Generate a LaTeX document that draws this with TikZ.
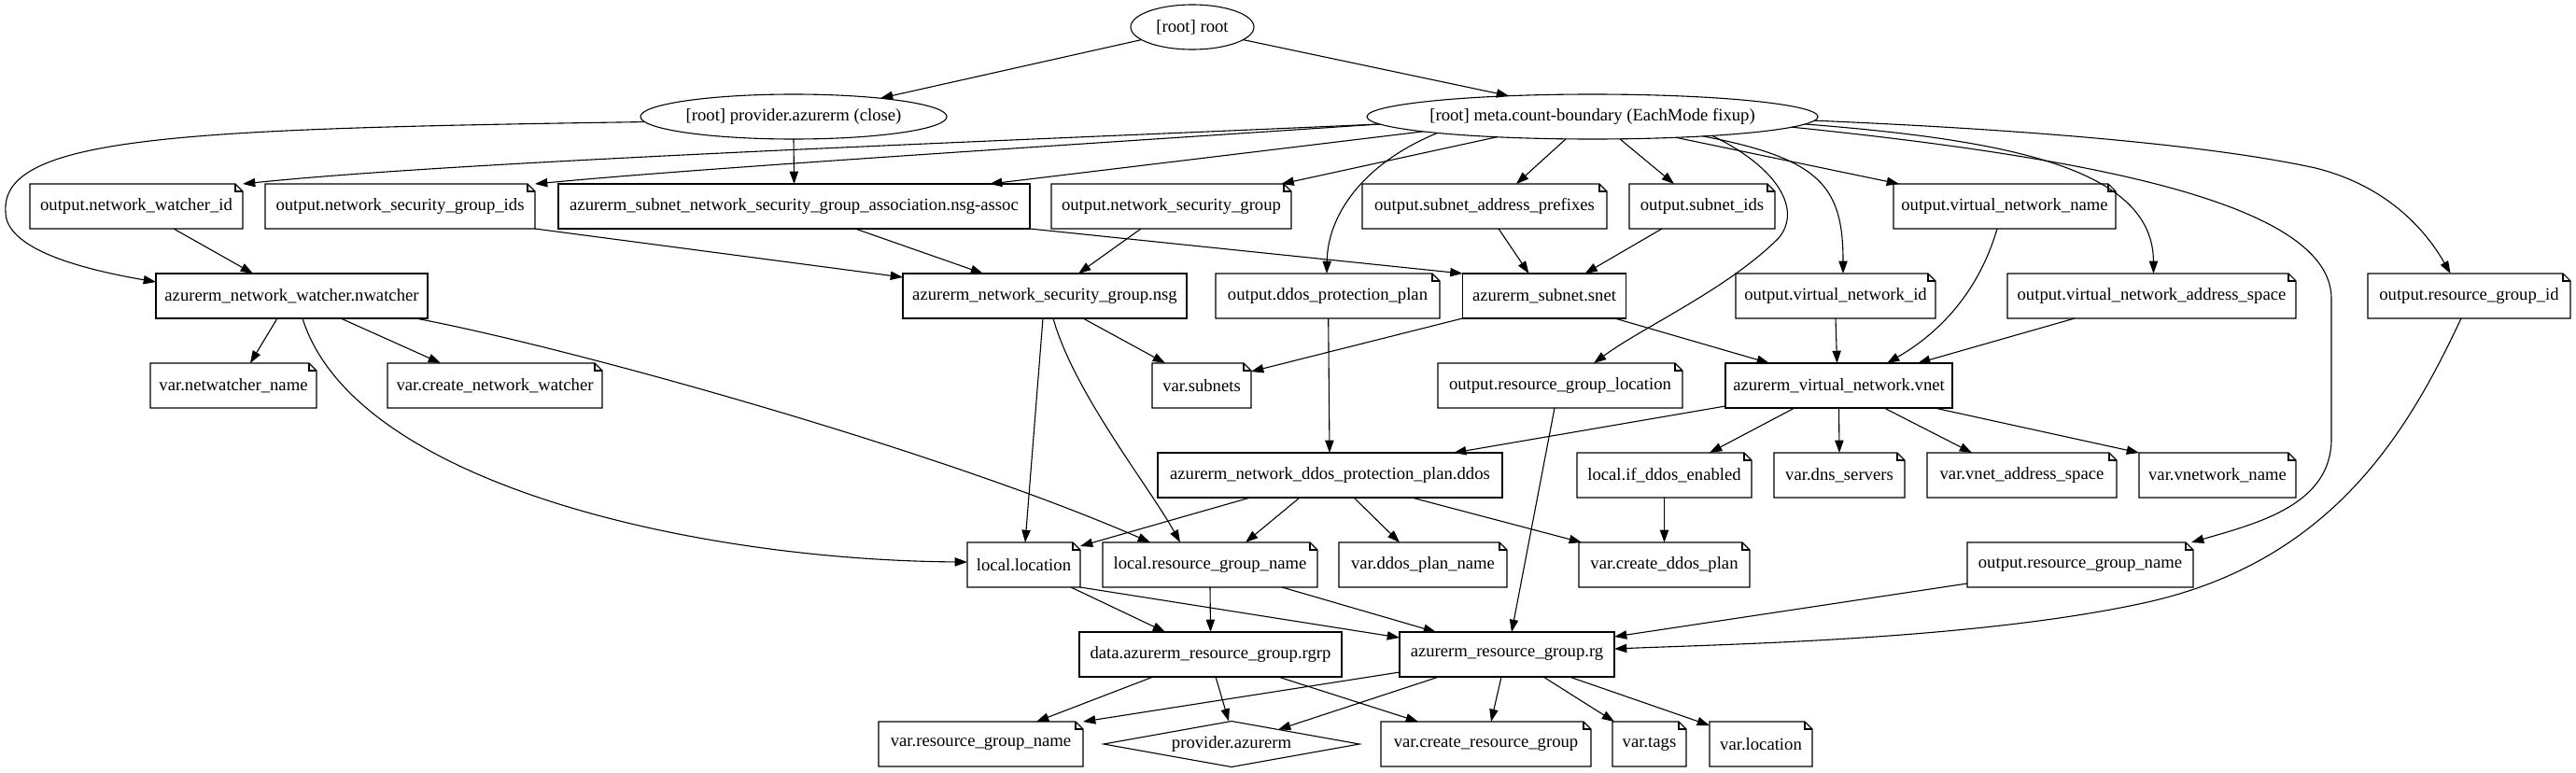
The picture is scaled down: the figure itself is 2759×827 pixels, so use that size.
\documentclass[tikz,border=0pt]{standalone}
\usepackage{fontspec}
\setmainfont{Liberation Serif}
\usetikzlibrary{arrows.meta,shapes.geometric}
\newcommand{\gvl}[1]{\makebox[0pt]{#1}}
\newcommand{\gvfont}{\fontsize{18.67}{22}\selectfont}
\begin{document}
\begin{tikzpicture}[x=1pt,y=-1pt,
  base/.style={font=\gvfont, inner sep=0pt, outer sep=0pt, minimum height=48pt},
  resbox/.style={base},
  notebox/.style={base},
  ell/.style={base, ellipse, draw, line width=1.1pt},
  dia/.style={base, diamond, draw, line width=1.1pt, shape aspect=5.7, minimum height=49pt},
  outline/.style={line width=1.1pt, line join=miter},
  e/.style={line width=1.1pt, -{Triangle[length=13.3pt,width=9.3pt]}},
]
\fill[white] (0,0) rectangle (2759,827);
\useasboundingbox (0,0) rectangle (2759,827);

% rank 0/1
\node[ell, minimum width=132pt] (root) at (1277,29) {\gvl{[root] root}};
\node[ell, minimum width=328pt] (prov) at (850,125) {\gvl{[root] provider.azurerm (close)}};
\node[ell, minimum width=483pt] (meta) at (1705.5,125) {\gvl{[root] meta.count-boundary (EachMode fixup)}};

% rank 2
\node[notebox, minimum width=228pt] (onwid) at (146,221) {\gvl{output.network\_watcher\_id}};
\node[notebox, minimum width=289pt] (onsgids) at (428.5,221) {\gvl{output.network\_security\_group\_ids}};
\node[resbox, minimum width=505pt] (assoc) at (850.5,221) {\gvl{azurerm\_subnet\_network\_security\_group\_association.nsg-assoc}};
\node[notebox, minimum width=257pt] (onsg) at (1254.5,221) {\gvl{output.network\_security\_group}};
\node[notebox, minimum width=262pt] (osap) at (1590,221) {\gvl{output.subnet\_address\_prefixes}};
\node[notebox, minimum width=156pt] (osids) at (1823,221) {\gvl{output.subnet\_ids}};
\node[notebox, minimum width=238pt] (ovnn) at (2147,221) {\gvl{output.virtual\_network\_name}};

% rank 3
\node[resbox, minimum width=291pt] (nw) at (312.5,317) {\gvl{azurerm\_network\_watcher.nwatcher}};
\node[resbox, minimum width=304pt] (nsg) at (1119,317) {\gvl{azurerm\_network\_security\_group.nsg}};
\node[notebox, minimum width=240pt] (oddos) at (1422,317) {\gvl{output.ddos\_protection\_plan}};
\node[resbox, minimum width=175pt] (snet) at (1654,317) {\gvl{azurerm\_subnet.snet}};
\node[notebox, minimum width=214pt] (ovnid) at (1966,317) {\gvl{output.virtual\_network\_id}};
\node[notebox, minimum width=309pt] (ovnas) at (2304.5,317) {\gvl{output.virtual\_network\_address\_space}};
\node[notebox, minimum width=217pt] (orgid) at (2644.5,317) {\gvl{output.resource\_group\_id}};

% rank 4
\node[notebox, minimum width=178pt] (vnwn) at (250,413) {\gvl{var.netwatcher\_name}};
\node[notebox, minimum width=230pt] (vcnw) at (530,413) {\gvl{var.create\_network\_watcher}};
\node[notebox, minimum width=106pt] (vsub) at (1287,413) {\gvl{var.subnets}};
\node[notebox, minimum width=262pt] (orgl) at (1671,413) {\gvl{output.resource\_group\_location}};
\node[resbox, minimum width=243pt] (vnet) at (1969.5,413) {\gvl{azurerm\_virtual\_network.vnet}};

% rank 5
\node[resbox, minimum width=369pt] (ddos) at (1424.5,509) {\gvl{azurerm\_network\_ddos\_protection\_plan.ddos}};
\node[notebox, minimum width=187pt] (lide) at (1782.5,509) {\gvl{local.if\_ddos\_enabled}};
\node[notebox, minimum width=140pt] (vdns) at (1970,509) {\gvl{var.dns\_servers}};
\node[notebox, minimum width=203pt] (vvas) at (2165.5,509) {\gvl{var.vnet\_address\_space}};
\node[notebox, minimum width=168pt] (vvnn) at (2375,509) {\gvl{var.vnetwork\_name}};

% rank 6
\node[notebox, minimum width=121pt] (lloc) at (1096.5,605) {\gvl{local.location}};
\node[notebox, minimum width=230pt] (lrgn) at (1296,605) {\gvl{local.resource\_group\_name}};
\node[notebox, minimum width=180pt] (vdpn) at (1524,605) {\gvl{var.ddos\_plan\_name}};
\node[notebox, minimum width=183pt] (vcdp) at (1782.5,605) {\gvl{var.create\_ddos\_plan}};
\node[notebox, minimum width=242pt] (orgn) at (2228,605) {\gvl{output.resource\_group\_name}};

% rank 7
\node[resbox, minimum width=281pt] (rgrp) at (1296.5,701) {\gvl{data.azurerm\_resource\_group.rgrp}};
\node[resbox, minimum width=230pt] (rg) at (1614,701) {\gvl{azurerm\_resource\_group.rg}};

% rank 8
\node[notebox, minimum width=219pt] (vrgn) at (1050.5,797) {\gvl{var.resource\_group\_name}};
\node[dia, minimum width=274pt] (pazr) at (1319,797) {\gvl{provider.azurerm}};
\node[notebox, minimum width=225pt] (vcrg) at (1591.5,797) {\gvl{var.create\_resource\_group}};
\node[notebox, minimum width=79pt] (vtags) at (1766.5,797) {\gvl{var.tags}};
\node[notebox, minimum width=110pt] (vloc) at (1886,797) {\gvl{var.location}};

% resource box outlines
\foreach \n in {assoc,nw,nsg,snet,vnet,ddos,rgrp,rg}{
  \draw[outline] (\n.south west) -- (\n.south east) -- (\n.north east) -- (\n.north west) -- cycle;
}
% note outlines
\foreach \n in {onwid,onsgids,onsg,osap,osids,ovnn,oddos,ovnid,ovnas,orgid,vnwn,vcnw,vsub,orgl,lide,vdns,vvas,vvnn,lloc,lrgn,vdpn,vcdp,orgn,vrgn,vcrg,vtags,vloc}{
  \draw[outline] (\n.south west) -- (\n.south east) -- ([yshift=-8pt]\n.north east) -- ([xshift=-8pt]\n.north east) -- (\n.north west) -- cycle;
  \draw[outline] ([xshift=-8pt]\n.north east) -- ([xshift=-8pt,yshift=-8pt]\n.north east) -- ([yshift=-8pt]\n.north east);
}

% edges from root
\draw[e] (root.194.3) -- (prov.12.4);
\draw[e] (root.346.7) -- (meta.166.8);

% edges from provider (close)
\draw[e] (prov.south) -- (assoc.north);
\draw[e] (prov.182) .. controls (200,138) and (0,145) .. (6,227) .. controls (6,265) and (80,287) .. ([yshift=15pt]nw.west);

% edges from meta
\draw[e] (meta.182) .. controls (1100,150) and (500,172) .. (onwid.north east);
\draw[e] (meta.182.7) .. controls (1150,155) and (750,180) .. (onsgids.north east);
\draw[e] (meta.185.9) -- ([xshift=209.5pt]assoc.north);
\draw[e] (meta.192.3) -- ([xshift=118pt]onsg.north);
\draw[e] (meta.186.3) .. controls (1460,175) and (1422,230) .. ([xshift=-1pt]oddos.north);
\draw[e] (meta.220.4) -- ([xshift=34pt]osap.north);
\draw[e] (meta.321.6) -- ([xshift=-30pt]osids.north);
\draw[e] (meta.351.3) .. controls (1905,180) and (1930,225) .. (1905,255) .. controls (1850,310) and (1760,350) .. ([xshift=36pt]orgl.north);
\draw[e] (meta.346.9) -- ([xshift=-113pt]ovnn.north);
\draw[e] (meta.350) .. controls (1950,170) and (1974,200) .. ([xshift=8pt]ovnid.north);
\draw[e] (meta.358.7) .. controls (2150,150) and (2306,180) .. ([xshift=2pt]ovnas.north);
\draw[e] (meta.357.2) .. controls (2250,170) and (2497,220) .. (2497,320) -- (2497,470) .. controls (2497,540) and (2420,560) .. ([xshift=-2pt]orgn.north east);
\draw[e] (meta.359.5) .. controls (2200,140) and (2380,158) .. (2480,180) .. controls (2560,200) and (2600,250) .. ([xshift=-20pt]orgid.north);

% rank 2 -> rank 3
\draw[e] ([xshift=40pt]onwid.south) -- ([xshift=-41.5pt]nw.north);
\draw[e] (onsgids.south east) -- ([yshift=20pt]nsg.west);
\draw[e] ([xshift=65.5pt]assoc.south) -- ([xshift=-66pt]nsg.north);
\draw[e] (assoc.south east) -- (snet.north west);
\draw[e] ([xshift=-32.5pt]onsg.south) -- ([xshift=36pt]nsg.north);
\draw[e] ([xshift=15pt]osap.south) -- ([xshift=-16.5pt]snet.north);
\draw[e] ([xshift=-43pt]osids.south) -- ([xshift=43.5pt]snet.north);
\draw[e] ([xshift=-8pt]ovnn.south) .. controls (2120,310) and (2080,355) .. ([xshift=51.5pt]vnet.north);

% from rank 3
\draw[e] ([xshift=0.7pt]oddos.south) -- ([xshift=-0.5pt]ddos.north);
\draw[e] ([xshift=-15.5pt]nw.south) -- ([xshift=18pt]vnwn.north);
\draw[e] ([xshift=52.5pt]nw.south) -- ([xshift=-58pt]vcnw.north);
\draw[e] ([xshift=11.5pt]nw.south) .. controls (380,520) and (750,600) .. ([yshift=3pt]lloc.west);
\draw[e] ([xshift=132.5pt]nw.south) .. controls (600,370) and (1000,480) .. ([xshift=-64pt]lrgn.north);
\draw[e] ([xshift=-2pt]nsg.south) -- ([xshift=1.5pt]lloc.north);
\draw[e] ([xshift=9pt]nsg.south) .. controls (1150,420) and (1230,520) .. ([xshift=-32pt]lrgn.north);
\draw[e] ([xshift=41pt]nsg.south) -- ([xshift=-39pt]vsub.north);
\draw[e] (snet.south west) -- ([yshift=15pt]vsub.east);
\draw[e] ([xshift=75.5pt]snet.south) -- ([xshift=-74.5pt]vnet.north);
\draw[e] (ovnid.south) -- ([xshift=-2pt]vnet.north);
\draw[e] ([xshift=-82.5pt]ovnas.south) -- ([xshift=84.5pt]vnet.north);
\draw[e] ([xshift=-8.5pt]orgid.south) .. controls (2580,460) and (2500,600) .. (2300,645) .. controls (2120,685) and (1850,690) .. ([yshift=6pt]rg.east);

% from rank 4
\draw[e] ([xshift=-6pt]orgl.south) -- ([xshift=5pt]rg.north);
\draw[e] ([yshift=-22pt]vnet.west) -- ([xshift=132.5pt]ddos.north);
\draw[e] ([xshift=-47.5pt]vnet.south) -- ([xshift=48.5pt]lide.north);
\draw[e] (vnet.south) -- (vdns.north);
\draw[e] ([xshift=48.5pt]vnet.south) -- ([xshift=-53.5pt]vvas.north);
\draw[e] ([xshift=102.5pt]vnet.south) -- (vvnn.north west);

% from rank 5
\draw[e] ([xshift=-85.5pt]ddos.south) -- ([yshift=20pt]lloc.east);
\draw[e] ([xshift=-32.5pt]ddos.south) -- ([xshift=38pt]lrgn.north);
\draw[e] ([xshift=25.5pt]ddos.south) -- ([xshift=-25pt]vdpn.north);
\draw[e] ([xshift=87.5pt]ddos.south) -- ([xshift=3pt]vcdp.north west);
\draw[e] (lide.south) -- (vcdp.north);

% from rank 6
\draw[e] ([yshift=-20pt]orgn.west) -- ([yshift=19pt]rg.east);
\draw[e] ([xshift=50.5pt]lloc.south) -- ([xshift=-48.5pt]rgrp.north);
\draw[e] (lloc.south east) -- ([yshift=18pt]rg.west);
\draw[e] (lrgn.south) -- (rgrp.north);
\draw[e] ([xshift=77pt]lrgn.south) -- ([xshift=-76pt]rg.north);

% from rank 7
\draw[e] ([xshift=-61.5pt]rgrp.south) -- ([xshift=59.5pt]vrgn.north);
\draw[e] ([xshift=5.5pt]rgrp.south) -- ([xshift=-3pt]pazr.north);
\draw[e] ([xshift=72.5pt]rgrp.south) -- ([xshift=-72.5pt]vcrg.north);
\draw[e] ([yshift=-19pt]rg.west) -- (vrgn.north east);
\draw[e] ([xshift=-73pt]rg.south) -- ([xshift=50pt,yshift=-9pt]pazr.north);
\draw[e] ([xshift=-6pt]rg.south) -- ([xshift=5.5pt]vcrg.north);
\draw[e] ([xshift=39pt]rg.south) -- ([xshift=-37.5pt]vtags.north);
\draw[e] ([xshift=67pt]rg.south) -- ([yshift=20pt]vloc.west);
\end{tikzpicture}
\end{document}
